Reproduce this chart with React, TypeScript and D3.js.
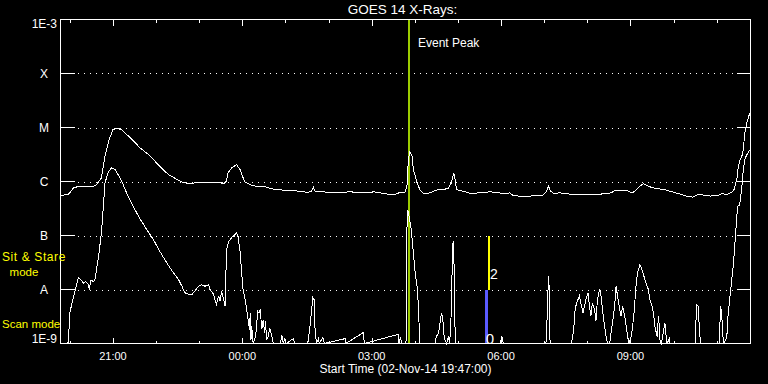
import React from "react";
import * as d3 from "d3";

// Start of plot: 02-Nov-2014 19:47:00 UTC, 16 hours span
const START = Date.UTC(2014, 10, 2, 19, 47, 0);
const SPAN_MIN = 960;

const levelValues = [1e-9, 1e-8, 1e-7, 1e-6, 1e-5, 1e-4, 1e-3];
const levelLabels = ["1E-9", "A", "B", "C", "M", "X", "1E-3"];

// [minutes since start, log10 flux]  — GOES 1-8 Å (long channel)
const longChannel: [number, number][] = [
  [0, -6.26], [11, -6.24], [18, -6.12], [25, -6.09], [46, -6.09], [50, -6.06], [57, -5.93],
  [62, -5.53], [67, -5.25], [73, -5.04], [78, -5.01], [85, -5.04], [97, -5.19], [111, -5.38],
  [125, -5.53], [138, -5.72], [150, -5.87], [162, -5.96], [171, -6.02], [180, -6.04], [190, -6.02],
  [199, -6.01], [208, -6.01], [222, -6.02], [227, -6.04], [231, -5.99], [233, -5.84], [238, -5.75],
  [245, -5.69], [250, -5.78], [254, -5.93], [257, -6.01], [264, -6.06], [273, -6.09], [282, -6.09],
  [296, -6.14], [310, -6.16], [324, -6.17], [333, -6.18], [343, -6.2], [347, -6.19], [349, -6.18],
  [352, -6.11], [354, -6.18], [361, -6.19], [375, -6.2], [393, -6.2], [403, -6.19], [417, -6.21],
  [431, -6.21], [435, -6.19], [449, -6.22], [458, -6.24], [468, -6.23], [472, -6.2], [477, -6.21],
  [479, -6.2], [482, -6.09], [484, -5.59], [486, -5.45], [489, -5.53], [491, -5.78], [496, -6.02],
  [500, -6.15], [505, -6.22], [512, -6.22], [519, -6.18], [526, -6.15], [533, -6.15], [540, -6.12],
  [544, -6.02], [547, -5.84], [549, -5.96], [551, -6.15], [560, -6.18], [570, -6.22], [584, -6.21],
  [598, -6.19], [607, -6.21], [621, -6.22], [625, -6.21], [630, -6.26], [644, -6.28], [663, -6.26],
  [672, -6.25], [676, -6.18], [679, -6.09], [682, -6.18], [686, -6.22], [695, -6.21], [713, -6.24],
  [741, -6.25], [760, -6.22], [767, -6.21], [771, -6.16], [778, -6.16], [788, -6.17], [795, -6.21],
  [799, -6.18], [806, -6.09], [811, -6.04], [818, -6.09], [825, -6.12], [834, -6.14], [843, -6.16],
  [853, -6.2], [862, -6.23], [871, -6.27], [880, -6.29], [887, -6.24], [894, -6.25], [904, -6.27],
  [915, -6.26], [920, -6.22], [925, -6.24], [929, -6.23], [934, -6.2], [937, -6.15], [941, -5.96],
  [943, -5.72], [945, -5.62], [948, -5.53], [950, -5.41], [952, -5.1], [955, -4.91], [957, -4.82],
  [959, -4.73],
];

// [minutes since start, log10 flux] — GOES 0.5-4 Å (short channel); values below 1E-9 sit on the floor
const shortChannel: [number, number][] = [
  [0, -9.5], [10, -9.5], [11, -8.96], [13, -8.43], [16, -8.25], [19, -8.09], [23, -7.88], [25, -7.78],
  [28, -7.81], [32, -7.88], [35, -7.85], [39, -7.91], [40, -8.0], [42, -7.83], [46, -7.85], [48, -7.81],
  [53, -7.38], [57, -6.95], [60, -6.39], [62, -6.02], [67, -5.81], [71, -5.75], [76, -5.78], [80, -5.87],
  [85, -5.99], [92, -6.21], [101, -6.46], [111, -6.7], [120, -6.89], [129, -7.07], [138, -7.29],
  [148, -7.51], [157, -7.69], [164, -7.81], [169, -7.94], [173, -8.06], [178, -8.09], [183, -8.09],
  [187, -8.03], [192, -7.94], [196, -7.91], [201, -7.94], [206, -7.91], [208, -8.0], [213, -8.09],
  [215, -8.19], [217, -8.28], [220, -8.12], [222, -8.22], [224, -8.03], [227, -8.19], [229, -8.31],
  [231, -7.26], [234, -7.11], [238, -7.04], [243, -6.98], [245, -6.95], [247, -7.02], [250, -7.32],
  [252, -7.69], [254, -8.0], [257, -8.19], [259, -8.37], [261, -8.56], [263, -8.74], [264, -8.43],
  [265, -8.94], [266, -8.68], [268, -9.5], [271, -8.89], [273, -8.68], [274, -8.4], [276, -8.43],
  [278, -8.37], [279, -8.56], [280, -8.74], [282, -8.56], [284, -8.8], [285, -8.59], [287, -8.93],
  [289, -8.87], [291, -8.71], [294, -8.87], [296, -9.5], [306, -9.5], [308, -8.85], [310, -9.5],
  [312, -8.91], [314, -9.5], [324, -8.91], [326, -9.5], [344, -9.5], [347, -8.7], [349, -8.43],
  [351, -8.15], [353, -8.19], [354, -8.69], [356, -9.5], [359, -8.91], [360, -9.5], [365, -8.89],
  [367, -9.5], [396, -8.91], [397, -9.5], [421, -8.8], [423, -9.5], [470, -8.83], [471, -9.5],
  [473, -8.89], [475, -9.5], [480, -9.5], [481, -8.93], [482, -6.89], [483, -6.52], [485, -6.64],
  [488, -6.89], [491, -7.32], [493, -7.63], [496, -7.94], [498, -8.31], [499, -8.68], [500, -9.5],
  [521, -9.5], [523, -8.87], [526, -8.8], [528, -8.62], [530, -8.43], [532, -8.56], [533, -8.8],
  [535, -8.93], [537, -9.5], [540, -8.87], [541, -9.5], [543, -8.74], [544, -8.06], [546, -7.14],
  [547, -7.11], [548, -7.94], [549, -8.8], [550, -9.5], [612, -9.5], [614, -8.87], [616, -9.5],
  [675, -9.5], [676, -8.93], [678, -8.12], [679, -7.75], [680, -8.0], [681, -8.93], [682, -9.5],
  [711, -9.5], [714, -8.74], [716, -8.37], [718, -8.25], [722, -8.12], [724, -8.25], [727, -8.43],
  [729, -8.31], [731, -8.19], [734, -8.06], [736, -8.31], [738, -8.49], [740, -8.25], [743, -8.37],
  [745, -8.59], [747, -8.19], [750, -8.0], [752, -8.12], [754, -8.37], [757, -8.68], [759, -8.87],
  [761, -9.5], [764, -9.5], [766, -8.8], [768, -8.62], [771, -8.31], [773, -7.94], [775, -8.12],
  [778, -8.37], [780, -8.49], [782, -8.31], [785, -8.49], [787, -8.68], [789, -8.87], [791, -9.5],
  [794, -8.87], [796, -8.68], [798, -8.43], [801, -7.88], [803, -7.69], [806, -7.54], [809, -7.63],
  [811, -7.72], [813, -7.81], [816, -7.94], [818, -8.0], [820, -8.19], [823, -8.31], [825, -8.43],
  [827, -8.68], [830, -8.87], [832, -8.49], [833, -8.68], [834, -8.93], [836, -9.5], [841, -8.62],
  [842, -8.8], [844, -9.5], [847, -8.91], [848, -9.5], [883, -9.5], [885, -8.28], [887, -8.31],
  [890, -8.93], [891, -9.5], [917, -9.5], [918, -8.31], [920, -8.43], [921, -8.8], [923, -9.5],
  [927, -8.89], [929, -8.43], [931, -8.19], [934, -7.81], [936, -7.57], [938, -7.2], [941, -6.64],
  [942, -6.46], [945, -6.43], [948, -6.09], [950, -5.78], [952, -5.59], [955, -5.5], [957, -5.47],
  [959, -5.41],
];

const eventPeakMin = 485;

// Observing mode markers
const modeMin = [593, 596];
const modeLow = [1e-9, 1e-8];
const modeHigh = [1e-8, 1e-7];
const modeLabel = ["0", "2"];
const modeColor = ["#5a5aff", "#ffff00"];
const modeWidth = [3, 2];

const FONT = "Liberation Sans, Arial, sans-serif";

export default function App() {
  const W = 768, H = 384;
  const L = 60.5, R = 750.5, T = 19.5, B = 343.5;
  const t0 = new Date(START);
  const t1 = new Date(START + SPAN_MIN * 60000);
  const tm = (m: number) => new Date(START + m * 60000);
  const x = d3.scaleUtc().domain([t0, t1]).range([L, R]);
  const y = d3.scaleLog().domain([1e-9, 1e-3]).range([B, T]).clamp(true);
  const line = d3
    .line<[number, number]>()
    .x((d) => x(tm(d[0])))
    .y((d) => y(Math.pow(10, d[1])));
  const hours = d3.utcHour.range(t0, t1);
  const fmt = d3.utcFormat("%H:%M");

  const ex = Math.round(x(tm(eventPeakMin)));

  return (
    <svg
      width={W}
      height={H}
      style={{ position: "absolute", left: 0, top: 0, background: "#000" }}
      fontFamily={FONT}
    >
      <rect x={0} y={0} width={W} height={H} fill="#000" />
      {/* gridlines */}
      {levelValues.slice(1, -1).map((v, i) => (
        <line
          key={"g" + i}
          x1={L + 17}
          x2={R - 15}
          y1={Math.round(y(v)) + 0.5}
          y2={Math.round(y(v)) + 0.5}
          stroke="#fff"
          strokeDasharray="1,5"
          shapeRendering="crispEdges"
        />
      ))}
      {/* y ticks */}
      {levelValues.map((v, i) => (
        <g key={"yt" + i} shapeRendering="crispEdges">
          <line x1={L} x2={L + 14} y1={y(v)} y2={y(v)} stroke="#fff" />
          <line x1={R - 14} x2={R} y1={y(v)} y2={y(v)} stroke="#fff" />
        </g>
      ))}
      {/* time ticks */}
      {hours.map((h, i) => {
        const major = h.getUTCHours() % 3 === 0;
        const len = major ? 6 : 3;
        const xx = Math.round(x(h)) + 0.5;
        return (
          <g key={"xt" + i} shapeRendering="crispEdges">
            <line x1={xx} x2={xx} y1={T} y2={T + len} stroke="#fff" />
            <line x1={xx} x2={xx} y1={B} y2={B - len} stroke="#fff" />
          </g>
        );
      })}
      {/* event peak */}
      <line x1={ex} x2={ex} y1={T} y2={B} stroke="#9ccc00" strokeWidth={2} shapeRendering="crispEdges" />
      <text x={418} y={47} fill="#fff" fontSize={12}>Event Peak</text>

      {/* mode markers */}
      {modeMin.map((m, i) => (
        <line
          key={"m" + i}
          x1={x(tm(m))}
          x2={x(tm(m))}
          y1={y(modeLow[i])}
          y2={y(modeHigh[i])}
          stroke={modeColor[i]}
          strokeWidth={modeWidth[i]}
          shapeRendering="crispEdges"
        />
      ))}

      {/* curves */}
      <path d={line(longChannel) || ""} fill="none" stroke="#fff" strokeWidth={1} shapeRendering="crispEdges" />
      <path d={line(shortChannel) || ""} fill="none" stroke="#fff" strokeWidth={1} shapeRendering="crispEdges" />

      {modeMin.map((m, i) => (
        <text
          key={"ml" + i}
          x={x(tm(m)) + (i === 0 ? -1 : 1)}
          y={i === 0 ? y(modeLow[i]) : y(modeLow[i]) - 11}
          fill="#fff"
          fontSize={i === 0 ? 15 : 14}
        >
          {modeLabel[i]}
        </text>
      ))}

      {/* frame */}
      <rect x={L} y={T} width={R - L} height={B - T} fill="none" stroke="#fff" shapeRendering="crispEdges" />

      {/* y labels */}
      {levelValues.map((v, i) => {
        const lab = levelLabels[i];
        if (i === 0) return <text key={"yl" + i} x={57} y={343} fill="#fff" fontSize={12} textAnchor="end">{lab}</text>;
        if (i === levelValues.length - 1) return <text key={"yl" + i} x={57} y={28} fill="#fff" fontSize={12} textAnchor="end">{lab}</text>;
        return (
          <text key={"yl" + i} x={44} y={y(v) + 4.5} fill="#fff" fontSize={12} textAnchor="middle">{lab}</text>
        );
      })}

      {/* time labels */}
      {hours
        .filter((h) => h.getUTCHours() % 3 === 0)
        .map((h, i) => (
          <text key={"xl" + i} x={x(h)} y={360} fill="#fff" fontSize={11} textAnchor="middle">{fmt(h)}</text>
        ))}
      <text x={(L + R) / 2} y={373} fill="#fff" fontSize={12} textAnchor="middle">
        Start Time (02-Nov-14 19:47:00)
      </text>

      {/* title */}
      <text x={(L + R) / 2 - 3} y={14} fill="#fff" fontSize={13.5} textAnchor="middle">GOES 14 X-Rays:</text>

      {/* mode legend */}
      <text x={2} y={261} fill="#ffff00" fontSize={12} letterSpacing={0.6}>Sit &amp; Stare</text>
      <text x={24} y={276} fill="#ffff00" fontSize={11.5} textAnchor="middle">mode</text>
      <text x={2} y={328} fill="#ffff00" fontSize={11.5}>Scan mode</text>
    </svg>
  );
}
